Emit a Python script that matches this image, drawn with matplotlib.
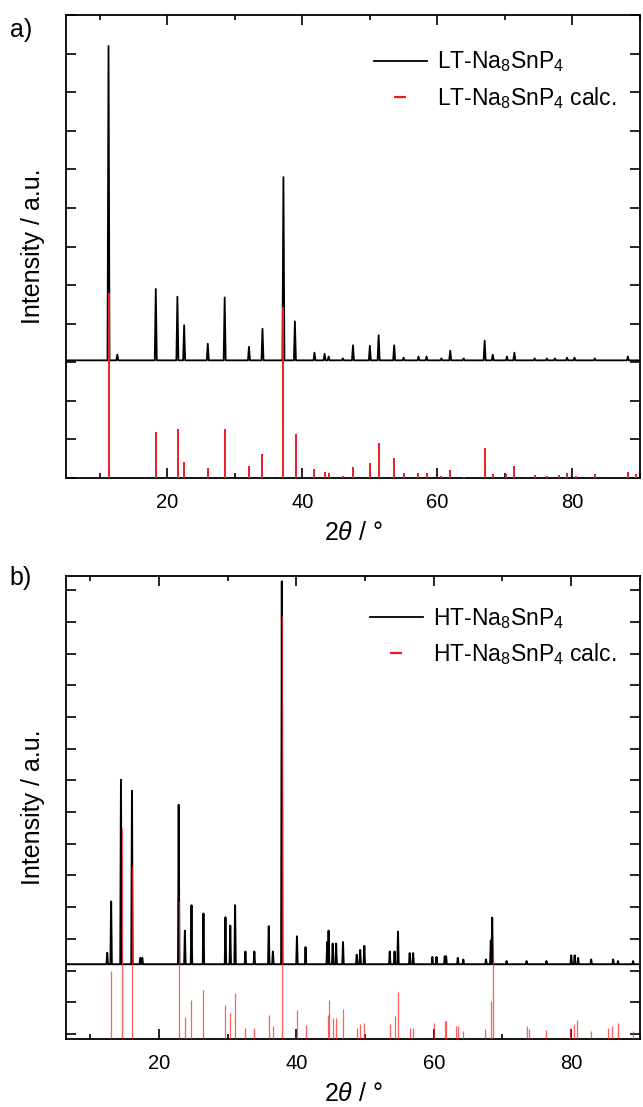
import numpy as np
import matplotlib
matplotlib.use("Agg")
import matplotlib.pyplot as plt
from matplotlib.lines import Line2D
from matplotlib.ticker import MultipleLocator

plt.rcParams['font.family'] = ['Liberation Sans', 'DejaVu Sans']
plt.rcParams['mathtext.fontset'] = 'custom'
plt.rcParams['mathtext.rm'] = 'Liberation Sans'
plt.rcParams['mathtext.it'] = 'Liberation Sans:italic'
plt.rcParams['mathtext.default'] = 'regular'

# a) LT-Na8SnP4: measured peaks (2theta, top of peak) and calculated reflections
lt_base = 3.05
lt_obs_pos = [11.3, 12.6, 18.3, 21.5, 22.5, 26.0, 28.5, 32.1, 34.1, 37.2, 38.9, 41.8,
              43.3, 43.9, 46.0, 47.5, 50.0, 51.3, 53.6, 55.0, 57.2, 58.4, 60.6, 61.9,
              63.9, 67.0, 68.2, 70.3, 71.4, 74.4, 76.2, 77.4, 79.2, 80.3, 83.3, 88.2]
lt_obs_top = [11.2, 3.2, 4.9, 4.7, 3.96, 3.48, 4.68, 3.4, 3.87, 7.8, 4.06, 3.25,
              3.22, 3.15, 3.1, 3.44, 3.43, 3.7, 3.44, 3.12, 3.15, 3.15, 3.1, 3.3,
              3.1, 3.56, 3.2, 3.15, 3.25, 3.1, 3.1, 3.1, 3.12, 3.12, 3.1, 3.15]
lt_calc_pos = [11.3, 18.4, 21.6, 22.5, 26.1, 28.5, 32.1, 34.1, 37.2, 39.0, 41.8, 43.3,
               43.9, 46.0, 47.5, 50.0, 51.3, 53.6, 55.0, 57.2, 58.4, 60.6, 61.9, 63.9,
               67.1, 68.3, 70.1, 71.4, 74.5, 76.3, 78.0, 79.2, 80.6, 83.4, 88.2, 89.4]
lt_calc_int = [4.8, 1.19, 1.27, 0.42, 0.27, 1.27, 0.31, 0.62, 4.42, 1.14, 0.23, 0.15,
               0.12, 0.06, 0.28, 0.4, 0.9, 0.51, 0.12, 0.12, 0.12, 0.06, 0.2, 0.02,
               0.77, 0.1, 0.1, 0.3, 0.08, 0.06, 0.07, 0.12, 0.05, 0.1, 0.16, 0.1]

# b) HT-Na8SnP4
ht_base = 2.2
ht_obs_pos = [12.5, 13.07, 14.5, 16.1, 17.3, 17.6, 22.9, 23.8, 24.76, 26.5, 29.7, 30.4,
              31.1, 32.6, 33.9, 36.0, 36.6, 37.9, 40.1, 41.35, 44.5, 44.7, 45.3, 45.8,
              46.8, 48.8, 49.3, 49.9, 53.6, 54.3, 54.8, 56.5, 57.0, 59.8, 60.4, 61.6,
              61.8, 63.5, 64.3, 67.6, 68.3, 68.5, 70.6, 73.5, 76.4, 80.0, 80.5, 81.0,
              82.9, 86.1, 86.8, 89.0]
ht_obs_top = [2.56, 4.18, 8.02, 7.67, 2.4, 2.4, 7.23, 3.26, 4.06, 3.8, 3.68, 3.42,
              4.06, 2.6, 2.6, 3.4, 2.6, 14.28, 3.08, 2.74, 2.9, 3.26, 2.85, 2.85,
              2.9, 2.5, 2.65, 2.78, 2.6, 2.6, 3.23, 2.55, 2.55, 2.43, 2.43, 2.45,
              2.45, 2.4, 2.35, 2.35, 2.95, 3.67, 2.3, 2.3, 2.3, 2.48, 2.48, 2.4,
              2.35, 2.35, 2.3, 2.3]
ht_calc_pos = [13.07, 14.6, 16.1, 22.9, 23.8, 24.76, 26.5, 29.7, 30.4, 31.1, 32.6, 33.9,
               36.0, 36.6, 37.9, 40.1, 41.4, 44.6, 44.7, 45.4, 45.8, 46.8, 48.8, 49.3,
               49.9, 53.6, 54.3, 54.8, 56.5, 57.0, 60.1, 61.6, 61.8, 63.2, 63.5, 64.3,
               67.5, 68.3, 68.6, 73.5, 73.9, 76.4, 79.8, 80.4, 80.9, 82.9, 85.3, 86.0,
               86.8, 89.0]
ht_calc_int = [2.0, 6.5, 5.3, 4.2, 0.55, 1.08, 1.4, 0.92, 0.67, 1.29, 0.2, 0.2,
               0.61, 0.25, 13.2, 0.77, 0.27, 0.6, 1.08, 0.5, 0.5, 0.8, 0.2, 0.3,
               0.35, 0.3, 0.58, 1.32, 0.2, 0.2, 0.35, 0.42, 0.4, 0.25, 0.25, 0.1,
               0.15, 1.03, 2.6, 0.25, 0.15, 0.12, 0.2, 0.3, 0.45, 0.1, 0.2, 0.25,
               0.35, 0.1]


def pattern_line(pos, top, base, xmin, xmax, w):
    # polyline through the read peak tops, each peak drawn as a narrow spike
    xs = [xmin]
    ys = [base]
    for p, t in sorted(zip(pos, top)):
        xs += [p - w, p, p + w]
        ys += [base, t, base]
    xs.append(xmax)
    ys.append(base)
    return xs, ys


def style_axes(ax, xlim, ylim, ymax_tick):
    ax.set_xlim(*xlim)
    ax.set_ylim(*ylim)
    ax.xaxis.set_major_locator(MultipleLocator(20))
    ax.xaxis.set_minor_locator(MultipleLocator(10))
    ax.set_yticks(np.arange(0, ymax_tick + 1, 1))
    ax.set_yticklabels([])
    ax.tick_params(which='both', direction='in', top=True, right=True, width=1.2)
    ax.tick_params(which='major', length=7, labelsize=14.5, pad=11)
    ax.tick_params(which='minor', length=3.5)
    for s in ax.spines.values():
        s.set_linewidth(1.3)
    ax.set_xlabel(r'2$\mathit{\theta}$ / °', fontsize=18, labelpad=6)
    ax.set_ylabel('Intensity / a.u.', fontsize=18, labelpad=4)


def add_legend(ax, labels, anchor):
    handles = [Line2D([], [], color='black', lw=1.3),
               Line2D([], [], color='#ee1c25', lw=0, marker='_', markersize=9,
                      markeredgewidth=1.6)]
    ax.legend(handles, labels, loc='upper right', bbox_to_anchor=anchor,
              frameon=False, fontsize=16.5, handlelength=2.3, handletextpad=0.45,
              labelspacing=0.45)


fig = plt.figure(figsize=(6.43, 11.07), dpi=100)
ax1 = fig.add_axes([0.1026, 0.5682, 0.8927, 0.4182])
ax2 = fig.add_axes([0.1026, 0.0614, 0.8927, 0.4183])

# panel a
x, y = pattern_line(lt_obs_pos, lt_obs_top, lt_base, 5, 90, 0.15)
ax1.plot(x, y, color='black', lw=1.3, zorder=2)
ax1.vlines(lt_calc_pos, 0, lt_calc_int, color='#ee1c25', lw=1.4, zorder=3)
style_axes(ax1, (5, 90), (0, 12), 12)
add_legend(ax1, [r'LT-Na$_8$SnP$_4$', r'LT-Na$_8$SnP$_4$ calc.'], (0.995, 0.97))
fig.text(0.015, 0.973, 'a)', fontsize=18, va='center')

# panel b
x, y = pattern_line(ht_obs_pos, ht_obs_top, ht_base, 6.5, 90, 0.1)
ax2.plot(x, y, color='black', lw=1.4, zorder=2)
ax2.vlines(ht_calc_pos, -0.2, ht_calc_int, color='#ff2a2a', lw=0.9, alpha=0.75, zorder=3)
style_axes(ax2, (6.5, 90), (-0.16, 14.45), 14)
add_legend(ax2, [r'HT-Na$_8$SnP$_4$', r'HT-Na$_8$SnP$_4$ calc.'], (0.995, 0.98))
fig.text(0.015, 0.478, 'b)', fontsize=18, va='center')

fig.savefig('out.png', dpi=100)
plt.close(fig)
